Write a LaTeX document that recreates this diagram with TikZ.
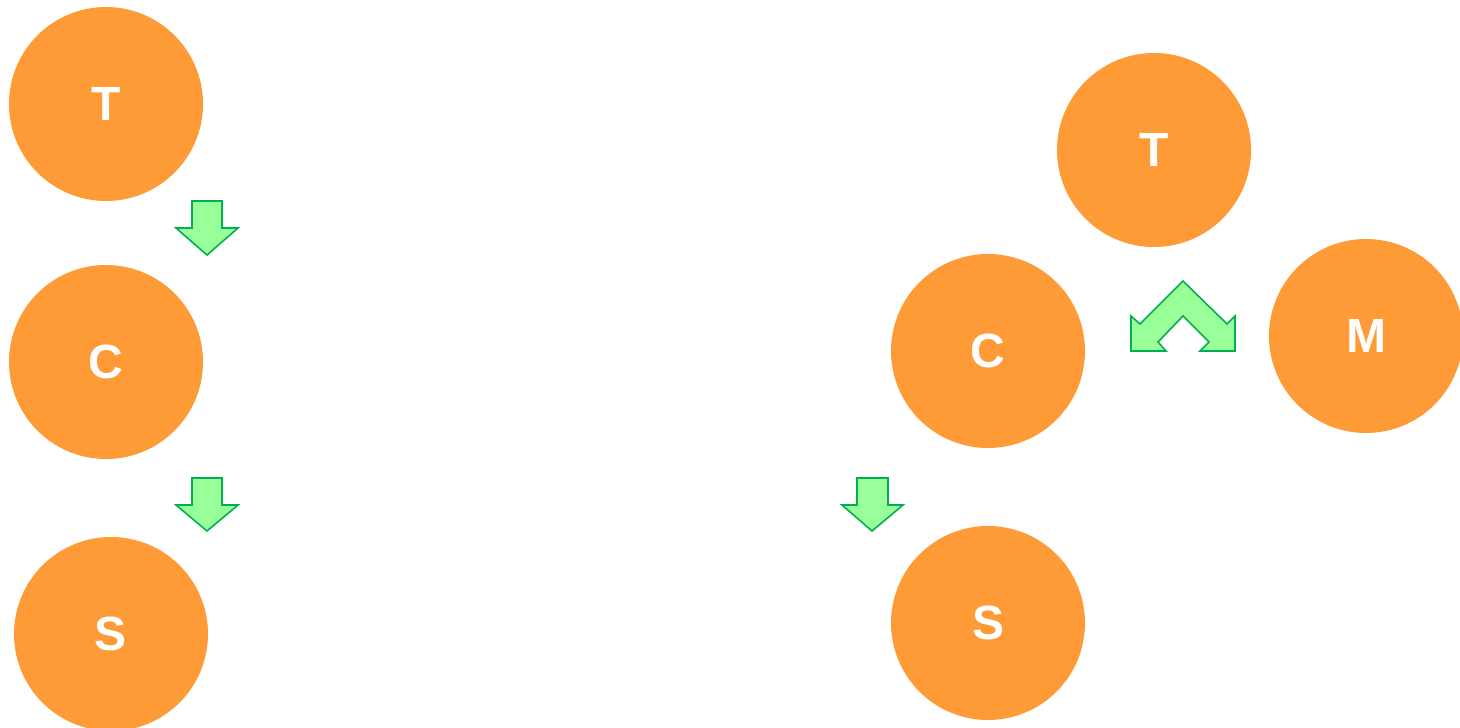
\documentclass[tikz,border=0pt]{standalone}
\usepackage{fontspec}
\setmainfont{Liberation Sans}
\usepackage{xcolor}
\definecolor{ballorange}{RGB}{255,155,54}
\definecolor{arrowfill}{RGB}{153,255,153}
\definecolor{arrowline}{RGB}{0,176,80}

\begin{document}
\begin{tikzpicture}[x=0.75pt,y=0.75pt,yscale=-1,xscale=1,
  ball/.style={circle,fill=ballorange,draw=none,minimum size=145.5pt,inner sep=0pt,
    text=white,font=\fontsize{36}{40}\selectfont\bfseries},
  blockarrow/.style={draw=arrowline,fill=arrowfill,line width=1.2pt,line join=miter}]
\useasboundingbox (0,0) rectangle (1460,728);

%Shape: Circle (left column)
\node[ball] (T1) at (106,104) {T};
\node[ball] (C1) at (106,362) {C};
\node[ball] (S1) at (111,634) {S};

%Shape: Circle (right group)
\node[ball] (T2) at (1154,150) {T};
\node[ball] (C2) at (988,351) {C};
\node[ball] (M2) at (1366,336) {M};
\node[ball] (S2) at (988,623) {S};

%Shape: Down Arrow
\draw[blockarrow] (192,201) -- (222,201) -- (222,228) -- (238,228) -- (207,255) -- (176,228) -- (192,228) -- cycle ;
%Shape: Down Arrow
\draw[blockarrow] (192,478) -- (222,478) -- (222,505) -- (238,505) -- (207,531) -- (176,505) -- (192,505) -- cycle ;
%Shape: Down Arrow
\draw[blockarrow] (857,478) -- (888,478) -- (888,505) -- (903,505) -- (872,531) -- (842,505) -- (857,505) -- cycle ;

%Shape: Split Arrow
\draw[blockarrow] (1183,281) -- (1140,324) -- (1131,316) -- (1131,351) -- (1166,351) -- (1158,342) -- (1183,316) -- (1209,342) -- (1200,351) -- (1235,351) -- (1235,316) -- (1227,324) -- cycle ;

\end{tikzpicture}
\end{document}
